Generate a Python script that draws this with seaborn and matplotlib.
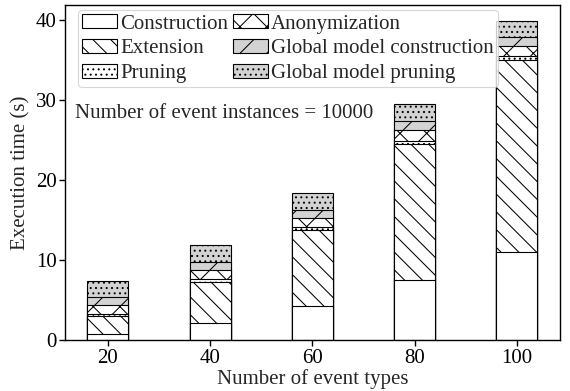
import matplotlib
matplotlib.use("Agg")
import matplotlib.pyplot as plt
import seaborn as sns
import pandas as pd
import numpy as np
from matplotlib.patches import Patch

# Execution time (s) of each phase, per number of event types
event_types = ["20", "40", "60", "80", "100"]
construction = [0.8, 2.1, 4.3, 7.5, 11.0]
extension = [2.2, 5.1, 9.4, 17.0, 24.0]
pruning = [0.3, 0.4, 0.4, 0.4, 0.5]
anonymization = [1.1, 1.2, 1.1, 1.3, 1.2]
global_construction = [1.0, 1.0, 1.0, 1.1, 1.1]
global_pruning = [2.0, 2.1, 2.1, 2.1, 2.0]

phase_labels = ["Construction", "Extension", "Pruning", "Anonymization",
                "Global model construction", "Global model pruning"]
phase_values = [construction, extension, pruning, anonymization,
                global_construction, global_pruning]
phase_colors = ["white", "white", "white", "white", "lightgray", "lightgray"]
phase_hatches = ["", "\\\\\\", ".....", "xx", "//", "....."]

DPI = 160
PT = 100 / DPI  # sizes below are given as if drawn at 100 dpi

sns.set_style("ticks")
plt.rcParams["font.family"] = ["Liberation Serif", "DejaVu Serif"]
plt.rcParams["hatch.linewidth"] = 0.75 * PT
plt.rcParams["xtick.direction"] = "out"
plt.rcParams["ytick.direction"] = "out"

df = pd.DataFrame({"types": event_types})
cumulative = np.cumsum(np.array(phase_values), axis=0)
for i, lab in enumerate(phase_labels):
    df[lab] = cumulative[i]

fig = plt.figure(figsize=(570 / DPI, 391 / DPI), dpi=DPI)
ax = fig.add_axes([0.114, 0.130, 0.868, 0.857])

# Stacked bars: draw cumulative totals from the top phase down,
# each lower phase covering the part beneath it.
for i in range(len(phase_labels) - 1, -1, -1):
    sns.barplot(data=df, x="types", y=phase_labels[i], ax=ax,
                color=phase_colors[i], saturation=1, width=0.4,
                edgecolor="black", linewidth=0.8 * PT, hatch=phase_hatches[i],
                errorbar=None)

fs = 15 * PT
ax.set_xlim(-0.42, 4.42)
ax.set_ylim(0, 41.8)
ax.set_yticks([0, 10, 20, 30, 40])
ax.set_xlabel("Number of event types", fontsize=fs, labelpad=1 * PT)
ax.set_ylabel("Execution time (s)", fontsize=fs, labelpad=4 * PT)
ax.tick_params(axis="both", labelsize=fs, length=4 * PT, width=1 * PT,
               colors="black", pad=2 * PT)
for side in ["top", "right", "left", "bottom"]:
    ax.spines[side].set_visible(True)
    ax.spines[side].set_color("black")
    ax.spines[side].set_linewidth(1.0 * PT)

ax.text(0.02, 0.675, "Number of event instances = 10000", transform=ax.transAxes,
        fontsize=fs, ha="left", va="center")

handles = [Patch(facecolor=c, edgecolor="black", hatch=h, linewidth=0.8 * PT)
           for c, h in zip(phase_colors, phase_hatches)]
leg = ax.legend(handles, phase_labels, ncol=2, loc="upper left",
                bbox_to_anchor=(0.026, 0.985), borderaxespad=0,
                fontsize=fs, handlelength=1.7, handleheight=0.65,
                handletextpad=0.15, columnspacing=0.2, labelspacing=0.26,
                borderpad=0.2, frameon=True, fancybox=True)
leg.get_frame().set_edgecolor("#cccccc")
leg.get_frame().set_linewidth(0.8 * PT)

fig.savefig("out.png", dpi=DPI, facecolor="white")
